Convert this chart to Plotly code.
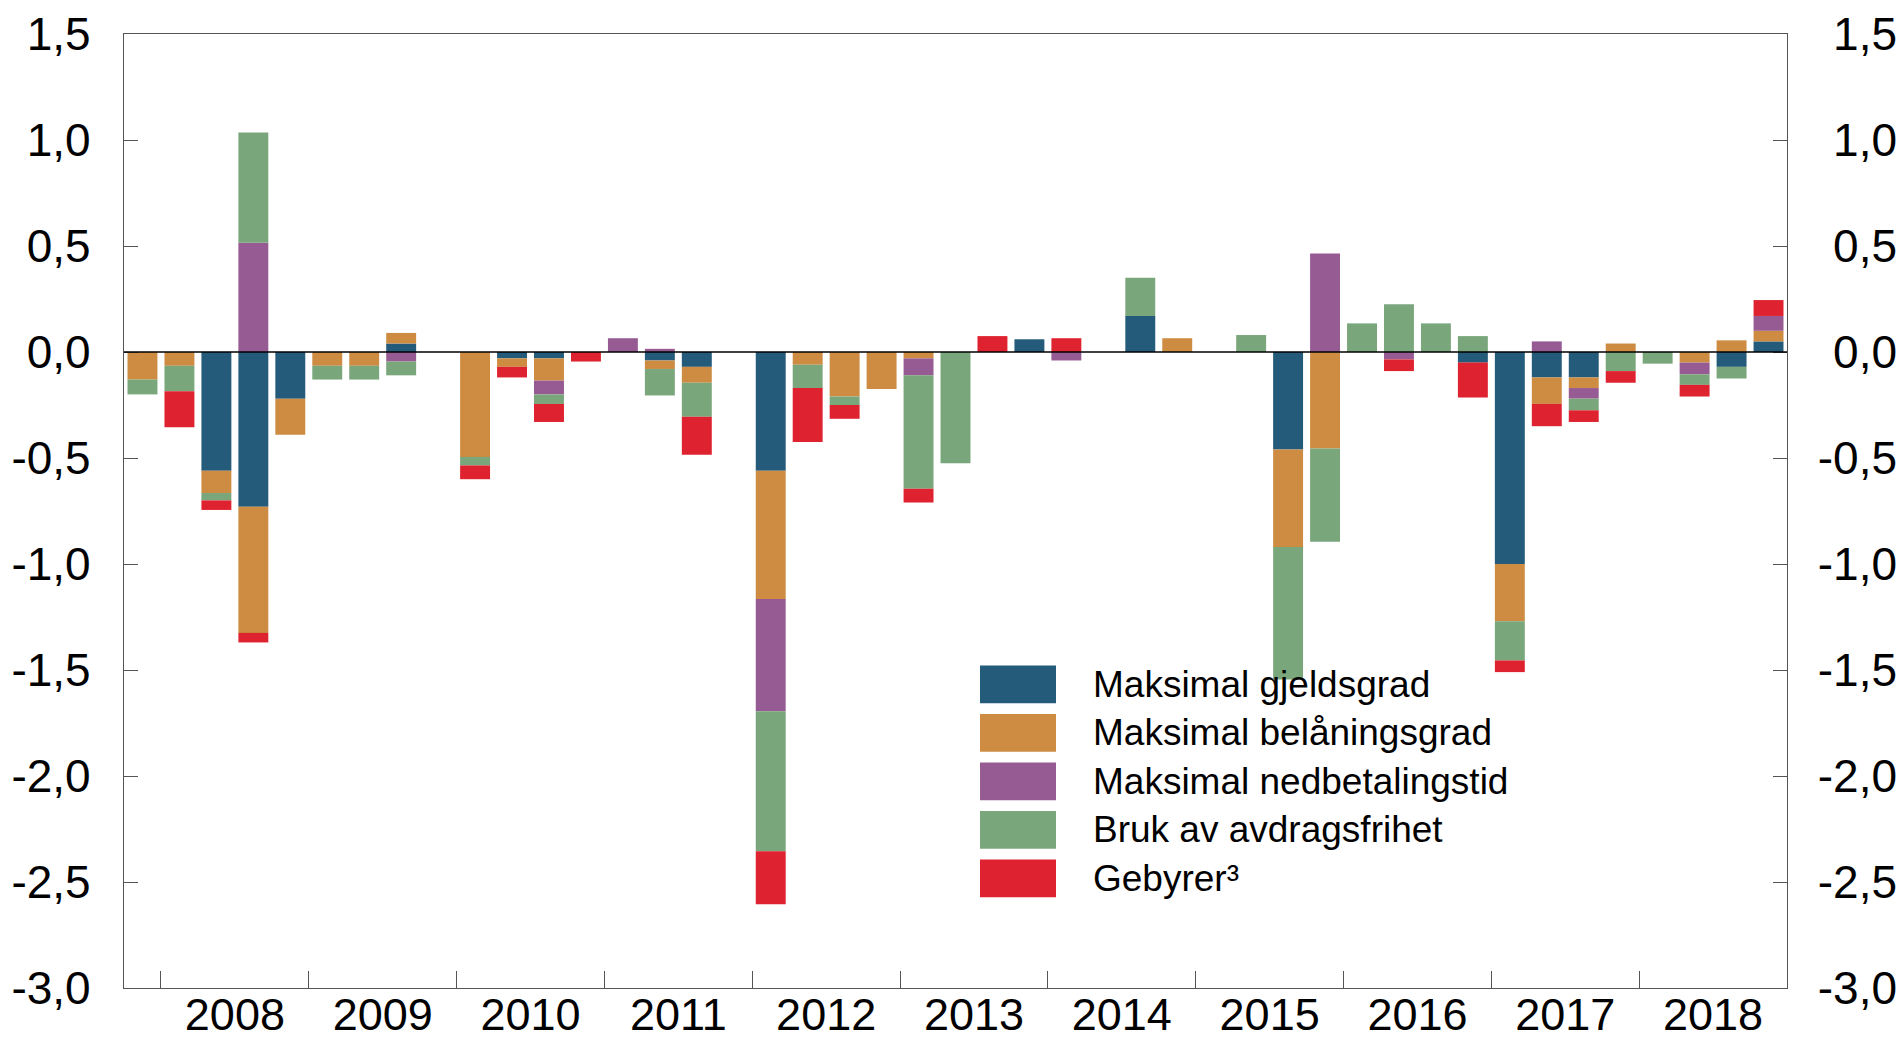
import plotly.graph_objects as go

# ---------------- data ----------------
quarters = ["2007K4"] + [f"{y}K{q}" for y in range(2008, 2019) for q in range(1, 5)]
years = [str(y) for y in range(2008, 2019)]

series_names = [
    "Maksimal gjeldsgrad",
    "Maksimal belåningsgrad",
    "Maksimal nedbetalingstid",
    "Bruk av avdragsfrihet",
    "Gebyrer³",
]

gjeldsgrad = [
    0, 0, -0.56, -0.73, -0.22,
    0, 0, 0.04, 0,
    0, -0.03, -0.03, 0,
    0, -0.04, -0.07, 0,
    -0.56, 0, 0, 0,
    0, 0, 0, 0.06,
    0, 0, 0.17, 0,
    0, 0, -0.46, 0,
    0, 0, 0, -0.05,
    -1.00, -0.12, -0.12, 0,
    0, 0, -0.07, 0.05,
]
belaningsgrad = [
    -0.13, -0.065, -0.105, -0.595, -0.17,
    -0.065, -0.065, 0.05, 0,
    -0.495, -0.04, -0.105, 0,
    0, -0.04, -0.075, 0,
    -0.605, -0.06, -0.21, -0.175,
    -0.03, 0, 0, 0,
    0, 0, 0, 0.065,
    0, 0, -0.46, -0.455,
    0, 0, 0, 0,
    -0.27, -0.125, -0.05, 0.04,
    0, -0.05, 0.055, 0.05,
]
nedbetalingstid = [
    0, 0, 0, 0.515, 0,
    0, 0, -0.045, 0,
    0, 0, -0.065, 0,
    0.065, 0.015, 0, 0,
    -0.53, 0, 0, 0,
    -0.08, 0, 0, 0,
    -0.04, 0, 0, 0,
    0, 0, 0, 0.465,
    0, -0.035, 0, 0,
    0, 0.05, -0.05, 0,
    0, -0.055, 0, 0.07,
]
avdragsfrihet = [
    -0.07, -0.12, -0.035, 0.52, 0,
    -0.065, -0.065, -0.065, 0,
    -0.04, 0, -0.045, 0,
    0, -0.125, -0.16, 0,
    -0.66, -0.11, -0.04, 0,
    -0.535, -0.525, 0, 0,
    0, 0, 0.18, 0,
    0, 0.08, -0.625, -0.44,
    0.135, 0.225, 0.135, 0.075,
    -0.185, 0, -0.055, -0.09,
    -0.055, -0.05, -0.055, 0,
]
gebyrer = [
    0, -0.17, -0.045, -0.045, 0,
    0, 0, 0, 0,
    -0.065, -0.05, -0.085, -0.045,
    0, 0, -0.18, 0,
    -0.25, -0.255, -0.065, 0,
    -0.065, 0, 0.075, 0,
    0.065, 0, 0, 0,
    0, 0, 0, 0,
    0, -0.055, 0, -0.165,
    -0.055, -0.105, -0.055, -0.055,
    0, -0.055, 0, 0.075,
]

y_tickvals = [1.5, 1.0, 0.5, 0.0, -0.5, -1.0, -1.5, -2.0, -2.5, -3.0]
y_ticktext = ["1,5", "1,0", "0,5", "0,0", "-0,5", "-1,0", "-1,5", "-2,0", "-2,5", "-3,0"]

colors = ["#245a7a", "#cd8c42", "#975b94", "#7aa67c", "#df222f"]

# ---------------- figure ----------------
x = list(range(len(quarters)))
all_series = [gjeldsgrad, belaningsgrad, nedbetalingstid, avdragsfrihet, gebyrer]

fig = go.Figure()
for name, vals, col in zip(series_names, all_series, colors):
    fig.add_trace(go.Bar(
        x=x, y=vals, name=name, marker=dict(color=col, line=dict(width=0)),
        showlegend=False, customdata=quarters,
        hovertemplate="%{customdata}: %{y}<extra>" + name + "</extra>",
    ))

# dummy trace to activate the right-hand label axis
fig.add_trace(go.Scatter(x=[0], y=[0], yaxis="y2", mode="markers",
                         marker=dict(opacity=0), hoverinfo="skip", showlegend=False))

# geometry (page body margin removed in post_script, so figure == window)
W, H = 1901, 1041
plot_left, plot_right, plot_top, plot_bottom = 124, 1787, 34, 988
L, R, T, B = plot_left, 4, plot_top, H - plot_bottom
pw_paper = W - L - R
ph = H - T - B
x_dom_end = (plot_right - L) / pw_paper

def px(xs):
    return (xs - L) / pw_paper

def py(ys):
    return (plot_bottom - ys) / ph

font_family = "Liberation Sans, Arial, sans-serif"
axis_col = "#555555"

year_centers = [2.5 + 4 * i for i in range(len(years))]
year_bounds = [0.5 + 4 * i for i in range(len(years))]

fig.update_layout(
    width=W, height=H,
    margin=dict(l=L, r=R, t=T, b=B, pad=0),
    paper_bgcolor="white", plot_bgcolor="white",
    barmode="relative", bargap=0.19,
    font=dict(family=font_family, size=46, color="black"),
    xaxis=dict(
        domain=[0, x_dom_end], automargin=False,
        range=[-0.5, len(quarters) - 0.5],
        tickmode="array", tickvals=year_centers, ticktext=years,
        ticks="", showgrid=False, zeroline=False,
        showline=True, mirror=True, linecolor=axis_col, linewidth=1.3,
        tickfont=dict(size=45), ticklabelstandoff=-13,
        minor=dict(tickmode="array", tickvals=year_bounds, ticks="inside",
                   ticklen=17, tickcolor=axis_col, tickwidth=1.3, showgrid=False),
    ),
    yaxis=dict(
        automargin=False,
        range=[-3.0, 1.5], tickmode="array", tickvals=y_tickvals, ticktext=y_ticktext,
        ticks="inside", ticklen=14, tickcolor=axis_col, tickwidth=1.3,
        showgrid=False, zeroline=False,
        showline=True, mirror="ticks", linecolor=axis_col, linewidth=1.3,
        tickfont=dict(size=46), ticklabelstandoff=23,
    ),
    yaxis2=dict(
        automargin=False,
        range=[-3.0, 1.5], tickmode="array", tickvals=y_tickvals, ticktext=y_ticktext,
        overlaying="y", anchor="free", position=1.0, side="left",
        ticks="", showgrid=False, zeroline=False, showline=False,
        tickfont=dict(size=46), ticklabelstandoff=0,
    ),
)

# zero line on top of bars
fig.add_shape(type="line", xref="x domain", yref="y", x0=0, x1=1, y0=0, y1=0,
              line=dict(color="black", width=1.6), layer="above")

# manual legend (large swatches), positions in pixels
sw_x0, sw_x1 = 980, 1056
row_top0, row_step, sw_h = 665.6, 48.5, 37.6
text_x = 1091
for i, (name, col) in enumerate(zip(series_names, colors)):
    top = row_top0 + i * row_step
    fig.add_shape(type="rect", xref="paper", yref="paper",
                  x0=px(sw_x0), x1=px(sw_x1), y0=py(top + sw_h), y1=py(top),
                  fillcolor=col, line=dict(width=0), layer="above")
    fig.add_annotation(xref="paper", yref="paper", x=px(text_x), y=py(top + sw_h / 2),
                       text=name, showarrow=False, xanchor="left", yanchor="middle",
                       font=dict(size=37, color="black", family=font_family))

fig.write_html(
    "out.html",
    config={"displayModeBar": False},
    post_script="document.body.style.margin='0';document.body.style.overflow='hidden';",
)
